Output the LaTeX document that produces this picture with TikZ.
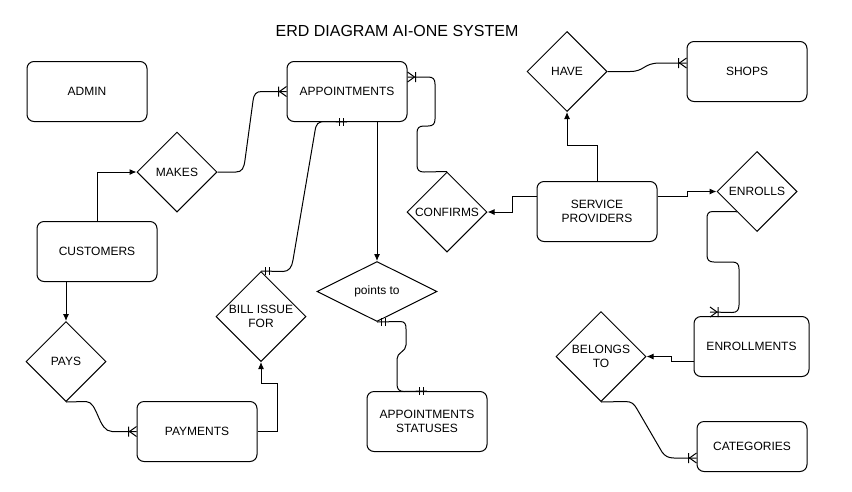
\documentclass[tikz,border=0pt]{standalone}
\usepackage{fontspec}
\setmainfont{Liberation Sans}
\usetikzlibrary{shapes.geometric,arrows.meta,calc}
\begin{document}
\begin{tikzpicture}[x=1pt,y=-1pt,
  txt/.style={font=\fontsize{12}{14}\selectfont, align=center},
  ent/.style={txt, draw, line width=1pt, rounded corners=7pt, minimum width=120pt, minimum height=60pt, inner sep=0pt},
  rel/.style={txt, draw, line width=1pt, diamond, minimum width=80pt, minimum height=80pt, inner sep=0pt},
  conn/.style={line width=1pt},
  arr/.style={conn, -{Latex[length=7pt,width=6pt]}},
  crowmark/.pic={\draw[line width=1pt] (-8,-5) -- (-8,5) (-7,0) -- (0,-5) (-7,0) -- (0,5);},
  onemark/.pic={\draw[line width=1pt] (-4,-4) -- (-4,4) (-8,-4) -- (-8,4);}
]
\useasboundingbox (0,0) rectangle (852,491);

\node[font=\fontsize{16}{19}\selectfont] (title) at (397,31) {ERD DIAGRAM AI-ONE SYSTEM};

% entities
\node[ent] (admin) at (87,91.5) {ADMIN};
\node[ent] (appt) at (347,91.5) {APPOINTMENTS};
\node[ent] (cust) at (97,251.5) {CUSTOMERS};
\node[ent] (pay) at (197,431.5) {PAYMENTS};
\node[ent] (stat) at (427,421.5) {APPOINTMENTS\\STATUSES};
\node[ent] (sp) at (597,211.5) {SERVICE\\PROVIDERS};
\node[ent] (shops) at (747,71.5) {SHOPS};
\node[ent, minimum width=115pt] (enrm) at (751.5,346.5) {ENROLLMENTS};
\node[ent, minimum width=110pt, minimum height=50pt] (cat) at (752,446.5) {CATEGORIES};

% relationships
\node[rel] (makes) at (177,172) {MAKES};
\node[rel] (have) at (567,71.5) {HAVE};
\node[rel] (conf) at (447,212) {CONFIRMS};
\node[rel] (enr) at (757,191.5) {ENROLLS};
\node[rel, minimum width=90pt, minimum height=90pt] (bill) at (261,316.5) {BILL ISSUE\\FOR};
\node[rel, minimum width=90pt, minimum height=90pt] (bel) at (601,356.5) {BELONGS\\TO};
\node[rel] (pays) at (66,361.5) {PAYS};
\node[rel, minimum width=120pt, minimum height=60pt] (pts) at (377,291.5) {points to};

% customers -> makes -> appointments
\draw[arr] (cust.north) |- (makes.west);
\draw[conn] (makes.east) -- (236,172) .. controls (242,172) and (244,168) .. (245,160)
  -- (253,101) .. controls (254,94) and (256,91.5) .. (262,91.5) -- (appt.west);
\pic at (appt.west) {crowmark};

% appointments -> bill issue for
\draw[conn] (appt.south) -- (325,121.5) .. controls (318,121.5) and (316,124) .. (315,131)
  -- (293,260) .. controls (292,267) and (289,271.5) .. (283,271.5) -- (bill.north);
\pic at (appt.south) {onemark};
\pic[rotate=180] at (bill.north) {onemark};

% appointments -> points to
\draw[arr] (appt.south -| pts.north) -- (pts.north);

% points to -> appointments statuses
\draw[conn] (pts.south) -- (400,321.5) .. controls (405,321.5) and (406,324) .. (406,329)
  -- (406,345) .. controls (406,352) and (397,352) .. (397,359)
  -- (397,384) .. controls (397,389) and (399,391.5) .. (404,391.5) -- (stat.north);
\pic[rotate=180] at (pts.south) {onemark};
\pic at (stat.north) {onemark};

% customers -> pays -> payments
\draw[arr] (cust.south -| pays.north) -- (pays.north);
\draw[conn] (pays.south) -- (86,401.5) .. controls (98,401.5) and (98,431.5) .. (112,431.5) -- (pay.west);
\pic at (pay.west) {crowmark};

% payments -> bill issue for
\draw[arr] (pay.east) -- ++(20,0) |- ($(bill.south)+(0,21)$) -- (bill.south);

% service providers -> confirms -> appointments
\draw[arr] ([yshift=15.5pt]sp.west) -- (512,196) |- (conf.east);
\coordinate (apptr) at ([yshift=14.5pt]appt.east);
\draw[conn] (conf.north) -- (424,172) .. controls (419,172) and (417,170) .. (417,165)
  -- (417,133) .. controls (417,128) and (419,126) .. (424,126)
  -- (428,126) .. controls (433,126) and (435,124) .. (435,119)
  -- (435,84) .. controls (435,79) and (433,77) .. (428,77) -- (apptr);
\pic[rotate=180] at (apptr) {crowmark};

% service providers -> have -> shops
\draw[arr] (sp.north) -- ++(0,-35.5) -| (have.south);
\coordinate (shopsl) at ([yshift=8.5pt]shops.west);
\draw[conn] (have.east) -- (630,71.5) .. controls (645,71.5) and (643,63) .. (660,63) -- (shopsl);
\pic at (shopsl) {crowmark};

% service providers -> enrolls -> enrollments
\draw[arr] ([yshift=15.5pt]sp.east) -- (687,196) |- (enr.west);
\coordinate (enrmt) at ([xshift=-41.5pt,yshift=4pt]enrm.north);
\draw[conn] (enr.south west) -- (713,211.5) .. controls (708,211.5) and (707,214) .. (707,219)
  -- (707,255) .. controls (707,260) and (709,262) .. (714,262)
  -- (732,262) .. controls (737,262) and (739,264) .. (739,269)
  -- (739,305) .. controls (739,310) and (737,312.5) .. (732,312.5) -- (enrmt);
\pic[rotate=180] at (enrmt) {crowmark};

% enrollments -> belongs to -> categories
\draw[arr] ([yshift=-14.5pt]enrm.west) -- (671,361) |- (bel.east);
\coordinate (catl) at ([yshift=-11.5pt]cat.west);
\draw[conn] (bel.south) -- (625,401.5) .. controls (632,401.5) and (634,404) .. (637,409)
  -- (662,452) .. controls (665,456) and (668,458) .. (674,458) -- (catl);
\pic at (catl) {crowmark};
\end{tikzpicture}
\end{document}
